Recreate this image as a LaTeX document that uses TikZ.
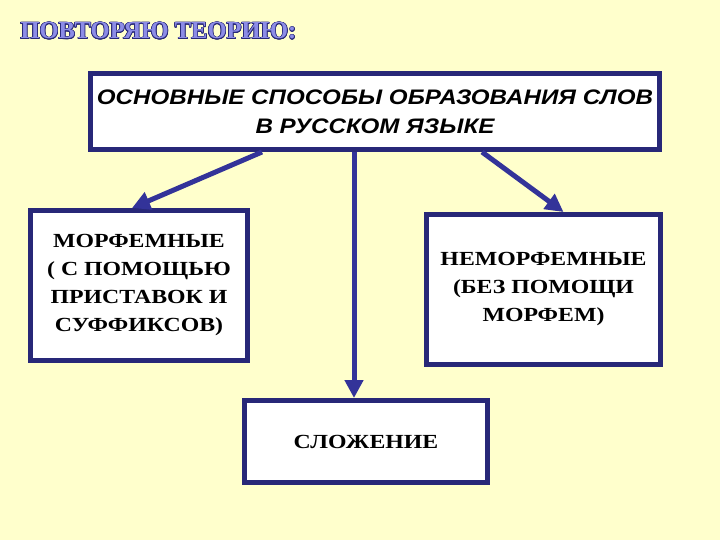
\documentclass[tikz,border=0pt]{standalone}
\usepackage{fontspec}
\setmainfont{Liberation Serif}
\setsansfont{Liberation Sans}
\newfontfamily\wideserif[FakeStretch=1.19]{Liberation Serif}
\newfontfamily\widesans[FakeStretch=1.15]{Liberation Sans}
\usepackage{contour}
\usetikzlibrary{positioning, arrows.meta}
\definecolor{slidebg}{RGB}{255,255,204}
\definecolor{boxline}{RGB}{40,40,120}
\definecolor{arrowblue}{RGB}{51,51,153}
\definecolor{titlefill}{RGB}{140,140,230}
\contourlength{0.6pt}

\begin{document}
\begin{tikzpicture}[x=1pt, y=-1pt,
  box/.style={draw=boxline, line width=5pt, fill=white, align=center, inner sep=0pt},
  boxtext/.style={font=\fontsize{20}{28}\selectfont\wideserif\bfseries},
  arr/.style={draw=arrowblue, line width=5pt, -{Triangle[length=18pt,width=18pt]}}]
\fill [slidebg] (0,0) rectangle (720,540);
\useasboundingbox (0,0) rectangle (720,540);
\node [anchor=base west] (title) at (17,39) {\fontsize{24.5}{25}\selectfont\bfseries\contour{boxline}{\textcolor{titlefill}{ПОВТОРЯЮ ТЕОРИЮ:}}};
\node [box, minimum width=569pt, minimum height=76pt, font=\fontsize{21}{29}\selectfont\widesans\bfseries\itshape] (ways) at (375,111.5) {ОСНОВНЫЕ СПОСОБЫ ОБРАЗОВАНИЯ СЛОВ\\В РУССКОМ ЯЗЫКЕ};
\node [box, boxtext, minimum width=217pt, minimum height=150pt] (morph) at (139,285.5) {МОРФЕМНЫЕ\\( С ПОМОЩЬЮ\\ПРИСТАВОК И\\СУФФИКСОВ)};
\node [box, boxtext, minimum width=234pt, minimum height=150pt] (nonmorph) at (543.5,289.5) {НЕМОРФЕМНЫЕ\\(БЕЗ ПОМОЩИ\\МОРФЕМ)};
\node [box, boxtext, minimum width=243pt, minimum height=82pt] (compound) at (366,441.5) {СЛОЖЕНИЕ};
\draw [arr] ([xshift=-113pt]ways.south) -- ([xshift=-7pt]morph.north);
\draw [arr] ([xshift=-21pt]ways.south) -- ([xshift=-21pt]ways.south |- compound.north);
\draw [arr] ([xshift=107pt]ways.south) -- ([xshift=20pt]nonmorph.north);
\end{tikzpicture}
\end{document}
